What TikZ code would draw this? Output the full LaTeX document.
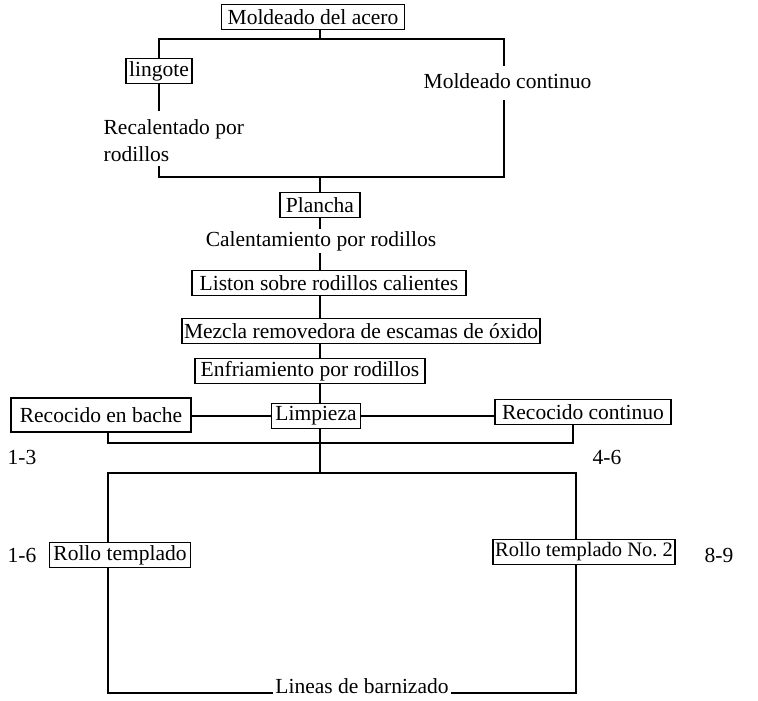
\documentclass[tikz,border=0pt]{standalone}
\usepackage{fontspec}
\setmainfont{Liberation Serif}

\begin{document}
\begin{tikzpicture}[x=1pt,y=-1pt,line width=1.3pt,
    box/.style={draw, fill=white, line width=1.6pt, inner xsep=6pt, inner ysep=0pt,
        minimum height=25pt, font=\fontsize{21.5}{26}\selectfont},
    lbl/.style={inner sep=2pt, font=\fontsize{21.5}{27}\selectfont}]
    \useasboundingbox (0,0) rectangle (758,701);
    \coordinate (sp) at (320,0);
    \node[box] (acero) at (313,17) {Moldeado del acero};
    \coordinate (b1) at (159,39);
    \coordinate (b2) at (504,39);
    \node[box, inner xsep=3pt] (lingote) at (159,71) {lingote};
    \node[lbl, anchor=west, align=left] (recal) at (101,141) {Recalentado por\\rodillos};
    \node[lbl, anchor=west] (mcont) at (421,81) {Moldeado continuo};
    \coordinate (l1) at (159,111);
    \coordinate (l2) at (159,166);
    \coordinate (r1) at (504,66);
    \coordinate (r2) at (504,100);
    \coordinate (m1) at (159,177);
    \coordinate (m2) at (504,177);
    \draw (acero.south -| sp) -- (sp |- b1);
    \draw (lingote.north) -- (b1) -- (b2) -- (r1);
    \draw (lingote.south) -- (l1);
    \draw (l2) -- (m1) -- (m2) -- (r2);
    \node[box] (plancha) at (320,205) {Plancha};
    \node[lbl] (calent) at (321,241) {Calentamiento por rodillos};
    \node[box, inner xsep=8pt] (liston) at (329,283) {Liston sobre rodillos calientes};
    \node[box, inner xsep=2pt] (mezcla) at (361,331) {Mezcla removedora de escamas de óxido};
    \node[box] (enfria) at (310,371) {Enfriamiento por rodillos};
    \draw (sp |- m1) -- (plancha.north -| sp);
    \draw (plancha.south -| sp) -- (calent.north -| sp);
    \draw (calent.south -| sp) -- (liston.north -| sp);
    \draw (liston.south -| sp) -- (mezcla.north -| sp);
    \draw (mezcla.south -| sp) -- (enfria.north -| sp);
    \node[box, minimum height=34pt, inner xsep=9pt] (bache) at (101,415) {Recocido en bache};
    \node[box, inner xsep=4pt] (limpieza) at (316,416) {Limpieza};
    \node[box, inner xsep=7pt] (continuo) at (583,412) {Recocido continuo};
    \draw (enfria.south -| sp) -- (limpieza.north -| sp);
    \draw (limpieza.west) -- (limpieza.west -| bache.east);
    \draw (limpieza.east) -- (limpieza.east -| continuo.west);
    \coordinate (j1) at (108,443);
    \coordinate (j2) at (573,443);
    \draw (bache.south -| j1) -- (j1) -- (j2) -- (continuo.south -| j2);
    \node[lbl, anchor=west] (n13) at (5,457) {1-3};
    \node[lbl, anchor=west] (n46) at (590,457) {4-6};
    \coordinate (t1) at (108,473);
    \coordinate (t2) at (576,473);
    \coordinate (u1) at (108,693);
    \coordinate (u2) at (576,693);
    \draw (limpieza.south -| sp) -- (sp |- t1);
    \node[box, inner xsep=4pt] (rollo) at (120,555) {Rollo templado};
    \node[box, inner xsep=2pt, font=\fontsize{20.5}{25}\selectfont] (rollodos) at (584,552) {Rollo templado No.~2};
    \node[lbl, anchor=west] (n16) at (5,555) {1-6};
    \node[lbl, anchor=west] (n89) at (702,555) {8-9};
    \node[lbl, anchor=base] (barniz) at (362,693) {Lineas de barnizado};
    \draw (rollo.north -| t1) -- (t1) -- (t2) -- (rollodos.north -| t2);
    \draw (rollo.south -| u1) -- (u1) -- (barniz.base west);
    \draw (barniz.base east) -- (u2) -- (rollodos.south -| u2);
\end{tikzpicture}
\end{document}
